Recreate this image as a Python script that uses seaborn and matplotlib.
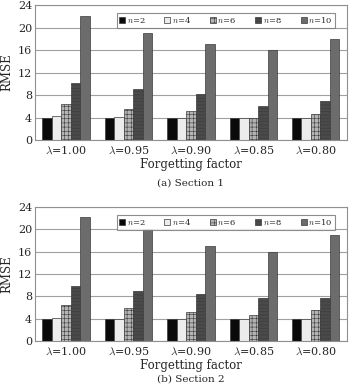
import matplotlib
matplotlib.use("Agg")
import matplotlib.pyplot as plt
import seaborn as sns
import pandas as pd
import numpy as np

factors = ["1.00", "0.95", "0.90", "0.85", "0.80"]
orders = ["2", "4", "6", "8", "10"]
sec1 = {
    "2":  [4.0, 4.0, 4.0, 3.9, 3.9],
    "4":  [4.2, 4.1, 4.0, 3.9, 3.9],
    "6":  [6.5, 5.6, 5.1, 3.9, 4.7],
    "8":  [10.2, 9.1, 8.2, 6.1, 6.9],
    "10": [22.0, 19.0, 17.0, 16.0, 18.0],
}
sec2 = {
    "2":  [4.0, 4.0, 4.0, 4.0, 4.0],
    "4":  [4.2, 4.0, 4.0, 4.0, 3.9],
    "6":  [6.4, 6.0, 5.3, 4.6, 5.5],
    "8":  [9.9, 9.0, 8.5, 7.7, 7.8],
    "10": [22.3, 20.0, 17.0, 16.0, 19.0],
}
titles = ["(a) Section 1", "(b) Section 2"]

colors = ["#0a0a0a", "#ececec", "#b4b4b4", "#4a4a4a", "#6c6c6c"]
hatches = ["", "", "++++", "-----", ""]

sns.set_style("white")
plt.rcParams["font.family"] = ["DejaVu Serif"]
plt.rcParams["mathtext.fontset"] = "cm"
plt.rcParams["hatch.linewidth"] = 0.4

fig = plt.figure(figsize=(3.5, 3.85), dpi=100)
rects = [[0.10, 0.636, 0.891, 0.351], [0.10, 0.114, 0.891, 0.348]]
title_y = [-0.32, -0.28]

for data, title, rect, ty in zip([sec1, sec2], titles, rects, title_y):
    rows = []
    for n in orders:
        for f, v in zip(factors, data[n]):
            rows.append({"factor": r"$\lambda$=" + f, "n": r"$n$=" + n, "rmse": v})
    df = pd.DataFrame(rows)
    ax = fig.add_axes(rect)
    sns.barplot(data=df, x="factor", y="rmse", hue="n", palette=colors,
                width=0.76, ax=ax, saturation=1, legend=False)
    handles = []
    for cont, h, c in zip(ax.containers, hatches, colors):
        for p in cont:
            p.set_hatch(h)
            p.set_edgecolor("#3a3a3a")
            p.set_linewidth(0.5)
        handles.append(cont.patches[0])
    ax.set_ylim(0, 24)
    ax.set_yticks(range(0, 25, 4))
    ax.set_xlim(-0.5, 4.5)
    ax.yaxis.grid(True, color="#a0a0a0", linewidth=0.8)
    ax.set_axisbelow(True)
    for s in ax.spines.values():
        s.set_color("#909090")
        s.set_linewidth(0.8)
    ax.set_xticks(np.arange(-0.5, 5, 1), minor=True)
    ax.tick_params(axis="x", which="major", length=0, labelsize=8, pad=3)
    ax.tick_params(axis="x", which="minor", length=2, color="#909090")
    ax.tick_params(axis="y", length=0, labelsize=8, pad=2)
    ax.set_ylabel("RMSE", fontsize=8.5, labelpad=3)
    ax.set_xlabel("Forgetting factor", fontsize=8.5, labelpad=2)
    leg = ax.legend(handles, [r"$n$=" + n for n in orders],
                    loc="upper right", ncol=5, fontsize=6, frameon=True,
                    fancybox=False, edgecolor="#707070", handlelength=0.7,
                    handleheight=0.7, handletextpad=0.2, columnspacing=2.3,
                    borderpad=0.3, bbox_to_anchor=(0.975, 0.975))
    leg.get_frame().set_linewidth(0.8)
    ax.text(0.5, ty, title, transform=ax.transAxes, ha="center", va="center",
            fontsize=7.5)

fig.savefig("out.png", dpi=100)
